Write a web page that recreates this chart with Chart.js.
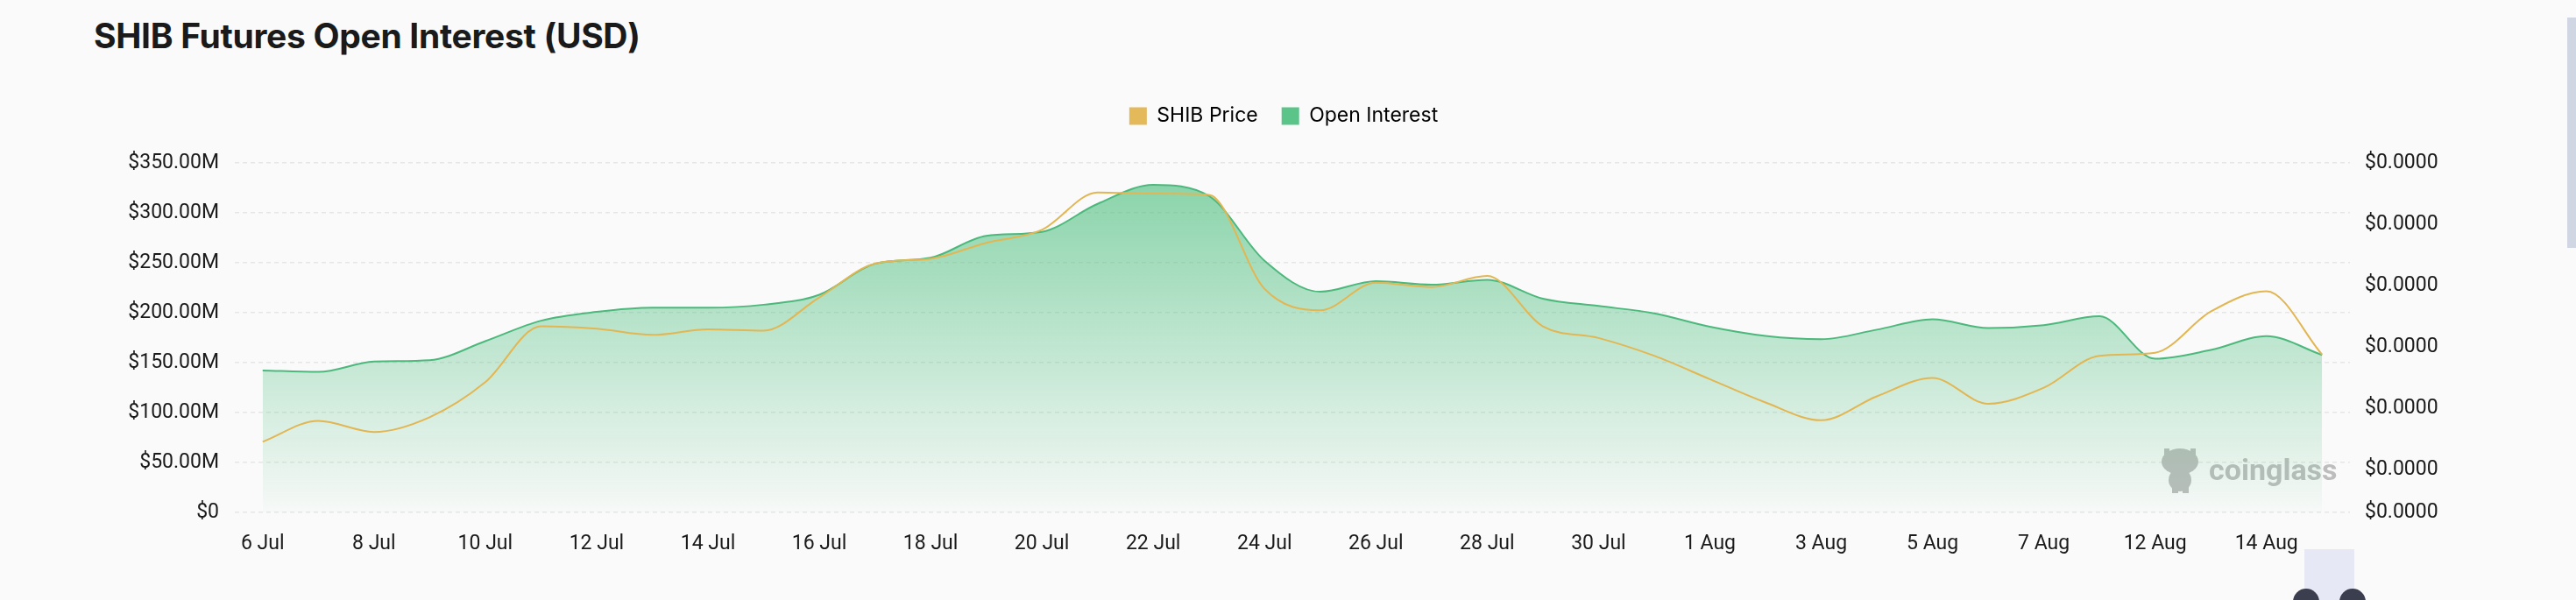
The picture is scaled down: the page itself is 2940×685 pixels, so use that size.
<!DOCTYPE html>
<html>
<head>
<meta charset="utf-8">
<script src="https://cdn.jsdelivr.net/npm/chart.js@4.4.0/dist/chart.umd.min.js"></script>
<style>
  html, body { margin: 0; padding: 0; background: #fafafa; }
  body { width: 2940px; height: 685px; position: relative; overflow: hidden; }
  h1 {
    position: absolute; left: 107px; top: 22px; margin: 0;
    font: 700 39px/38px Inter, sans-serif; color: #1a1a1a; letter-spacing: -0.3px;
  }
  #wrap { position: absolute; left: 0; top: 0; width: 2940px; height: 685px; }
  .sel { position: absolute; left: 2630px; top: 627px; width: 57px; height: 58px; background: #e7e8f6; }
  .handle { position: absolute; top: 672px; width: 30px; height: 30px; border-radius: 15px; background: #3b3e4e; }
  .scroll { position: absolute; left: 2930px; top: 20px; width: 10px; height: 263px; background: #d1d6e3; }
</style>
</head>
<body>
<h1>SHIB Futures Open Interest (USD)</h1>
<div id="wrap"><canvas id="chart" width="2940" height="685"></canvas></div>
<div class="sel"></div>
<div class="handle" style="left:2617px"></div>
<div class="handle" style="left:2670px"></div>
<div class="scroll"></div>
<script>
const labels = [
  '6 Jul', '7 Jul', '8 Jul', '9 Jul', '10 Jul', '11 Jul', '12 Jul', '13 Jul', '14 Jul', '15 Jul',
  '16 Jul', '17 Jul', '18 Jul', '19 Jul', '20 Jul', '21 Jul', '22 Jul', '23 Jul', '24 Jul', '25 Jul',
  '26 Jul', '27 Jul', '28 Jul', '29 Jul', '30 Jul', '31 Jul', '1 Aug', '2 Aug', '3 Aug', '4 Aug',
  '5 Aug', '6 Aug', '7 Aug', '8 Aug', '12 Aug', '13 Aug', '14 Aug', '15 Aug'
];

// open interest, USD millions
const openInterest = [
  142.2, 140.7, 151.0, 152.4, 171.5, 192.0, 200.8, 205.0, 205.0, 208.0,
  218.0, 249.0, 255.0, 277.0, 281.0, 309.0, 328.0, 317.0, 252.0, 221.0,
  231.5, 228.0, 233.0, 214.0, 206.7, 199.4, 186.0, 176.8, 173.5, 183.0,
  193.5, 184.7, 187.6, 196.4, 153.9, 162.7, 176.5, 157.7
];

// SHIB price, in units of 1e-5 USD
const shibPrice = [
  1.446, 1.480, 1.462, 1.486, 1.543, 1.634, 1.630, 1.620, 1.629, 1.627,
  1.681, 1.736, 1.744, 1.770, 1.791, 1.852, 1.850, 1.848, 1.695, 1.660,
  1.705, 1.698, 1.716, 1.634, 1.615, 1.586, 1.548, 1.510, 1.481, 1.520,
  1.550, 1.508, 1.534, 1.586, 1.591, 1.658, 1.691, 1.588
];

const oiTicks = [0, 50, 100, 150, 200, 250, 300, 350];
const priceTicks = [1.331, 1.4, 1.5, 1.6, 1.7, 1.8, 1.9];

const axisFont = { family: 'Roboto', size: 23 };

// taller legend box + nudge it a little left
const legendSpacer = {
  id: 'legendSpacer',
  beforeInit(chart) {
    const fit = chart.legend.fit;
    chart.legend.fit = function () {
      fit.bind(chart.legend)();
      this.height = 92;
    };
  },
  afterLayout(chart) {
    chart.legend.left -= 10;
    chart.legend.right -= 10;
  }
};

const watermark = {
  id: 'watermark',
  beforeDatasetsDraw(chart) {
    const c = chart.ctx;
    c.save();
    c.fillStyle = '#bdbdbd';
    // mascot
    c.beginPath();
    c.ellipse(2488, 527, 21, 15, 0, 0, Math.PI * 2);
    c.fill();
    c.beginPath();
    c.ellipse(2488, 548, 13, 13, 0, 0, Math.PI * 2);
    c.fill();
    c.fillRect(2470, 512, 6, 8);
    c.fillRect(2500, 512, 6, 8);
    c.fillRect(2479, 555, 7, 8);
    c.fillRect(2491, 555, 7, 8);
    c.font = '700 34px Roboto, sans-serif';
    c.textBaseline = 'alphabetic';
    c.fillText('coinglass', 2521, 548);
    c.restore();
  }
};

new Chart(document.getElementById('chart'), {
  type: 'line',
  data: {
    labels: labels,
    datasets: [
      {
        label: 'SHIB Price',
        data: shibPrice.map(v => v * 1e-5),
        yAxisID: 'y1',
        borderColor: '#e2b652',
        borderWidth: 2,
        pointRadius: 0,
        fill: false,
        cubicInterpolationMode: 'monotone'
      },
      {
        label: 'Open Interest',
        data: openInterest.map(v => v * 1e6),
        yAxisID: 'y',
        borderColor: '#4cb87c',
        borderWidth: 2,
        pointRadius: 0,
        fill: 'origin',
        cubicInterpolationMode: 'monotone',
        backgroundColor: (ctx) => {
          const area = ctx.chart.chartArea;
          if (!area) return 'rgba(75,190,125,0.3)';
          const g = ctx.chart.ctx.createLinearGradient(0, area.top, 0, area.bottom);
          g.addColorStop(0, 'rgba(75,190,125,0.68)');
          g.addColorStop(1, 'rgba(75,190,125,0.02)');
          return g;
        }
      }
    ]
  },
  options: {
    responsive: false,
    animation: false,
    layout: { padding: { top: 94, left: 0, right: 0, bottom: 0 } },
    plugins: {
      tooltip: { enabled: false },
      legend: {
        position: 'top',
        fullSize: false,
        labels: {
          boxWidth: 20,
          boxHeight: 20,
          padding: 27,
          color: '#333',
          font: { family: 'Inter', size: 23 },
          generateLabels: () => [
            { text: 'SHIB Price', fillStyle: '#e3b95a', strokeStyle: '#e3b95a', lineWidth: 0, datasetIndex: 0 },
            { text: 'Open Interest', fillStyle: '#5bc489', strokeStyle: '#5bc489', lineWidth: 0, datasetIndex: 1 }
          ]
        }
      }
    },
    scales: {
      x: {
        offset: true,
        grid: { display: false },
        border: { display: false },
        ticks: {
          autoSkip: false,
          maxRotation: 0,
          padding: 14,
          color: '#1a1a1a',
          font: axisFont,
          callback: (v, i) => (i % 2 === 0 ? labels[i] : '')
        },
        afterFit: s => { s.height = 100; }
      },
      y: {
        position: 'left',
        min: 0,
        max: 350e6,
        afterBuildTicks: s => { s.ticks = oiTicks.map(v => ({ value: v * 1e6 })); },
        grid: { color: '#e6e6e6', lineWidth: 1.5, drawTicks: false },
        border: { display: false, dash: [5, 4] },
        ticks: {
          padding: 18,
          color: '#1a1a1a',
          font: axisFont,
          callback: v => (v === 0 ? '$0' : '$' + (v / 1e6).toFixed(2) + 'M')
        },
        afterFit: s => { s.width = 268; }
      },
      y1: {
        position: 'right',
        min: priceTicks[0] * 1e-5,
        max: priceTicks[priceTicks.length - 1] * 1e-5,
        afterBuildTicks: s => { s.ticks = priceTicks.map(v => ({ value: v * 1e-5 })); },
        grid: { drawOnChartArea: false, drawTicks: false },
        border: { display: false },
        ticks: {
          padding: 17,
          color: '#1a1a1a',
          font: axisFont,
          callback: v => '$' + v.toFixed(4)
        },
        afterFit: s => { s.width = 258; }
      }
    }
  },
  plugins: [legendSpacer, watermark]
});
</script>
</body>
</html>
